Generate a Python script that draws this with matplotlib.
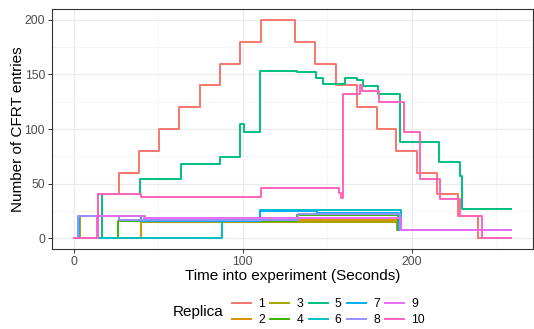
import matplotlib
matplotlib.use("Agg")
import matplotlib.pyplot as plt
from matplotlib.ticker import MultipleLocator

plt.rcParams["font.family"] = ["Liberation Sans", "DejaVu Sans"]

# step breakpoints (time in s, CFRT entries), value holds until next time
t1 = [0, 14.5, 26.5, 38.8, 50.6, 62.4, 74.5, 86.5, 98.6, 110.7, 131, 143, 155.5, 167.5, 179.5, 191, 203, 215, 227.6, 239.5, 259]
v1 = [0, 40, 60, 80, 100, 120, 140, 160, 180, 200, 180, 160, 140, 120, 100, 80, 60, 40, 20, 0, 0]
t2 = [0, 39.5, 42, 193, 259]
v2 = [0, 20, 17, 7, 7]
t3 = [0, 3.5, 40, 191.5, 259]
v3 = [0, 20, 15, 7, 7]
t4 = [0, 26, 132, 192, 259]
v4 = [0, 16, 21, 7, 7]
t5 = [0, 16.5, 39.4, 63.3, 86.5, 98.6, 101, 110, 132.4, 143.7, 147.3, 160.4, 167.8, 171, 180, 193, 216, 228.6, 230, 259]
v5 = [0, 40, 54, 68, 74, 105, 97, 153, 152, 147, 141, 147, 145, 139, 132, 88, 70, 57, 27, 27]
t6 = [0, 87.5, 110.4, 193.5, 259]
v6 = [0, 16, 25.5, 7, 7]
t7 = [0, 3, 40, 110.4, 144, 192.5, 259]
v7 = [0, 20, 16, 25, 23, 7, 7]
t8 = [0, 2.2, 27, 133, 193, 259]
v8 = [0, 20, 17, 22, 7, 7]
t9 = [0, 13.5, 41.6, 194, 259]
v9 = [0, 20, 18, 7, 7]
t10 = [0, 14, 40, 110.6, 157, 158.5, 159.6, 169.5, 170.5, 181, 195.3, 205, 216.8, 229, 241.8, 259]
v10 = [0, 40, 38, 46, 41, 37, 132, 140, 135, 125, 97, 54, 36, 20, 0, 0]

replicas = ["1", "2", "3", "4", "5", "6", "7", "8", "9", "10"]
times = [t1, t2, t3, t4, t5, t6, t7, t8, t9, t10]
values = [v1, v2, v3, v4, v5, v6, v7, v8, v9, v10]
colors = ["#F8766D", "#D89000", "#A3A500", "#39B600", "#00BF7D",
          "#00BFC4", "#00B0F6", "#9590FF", "#E76BF3", "#FF62BC"]

fig = plt.figure(figsize=(5.34, 3.29), dpi=100)
ax = fig.add_axes([52 / 534, 1 - 249 / 329, 481 / 534, 240 / 329])

for name, t, v, c in zip(replicas, times, values, colors):
    ax.plot(t, v, drawstyle="steps-post", color=c, lw=1.4, label=name)

ax.set_xlim(-12.95, 271.95)
ax.set_ylim(-10, 210)
ax.xaxis.set_major_locator(MultipleLocator(100))
ax.xaxis.set_minor_locator(MultipleLocator(50))
ax.yaxis.set_major_locator(MultipleLocator(50))
ax.yaxis.set_minor_locator(MultipleLocator(25))
ax.grid(which="major", color="#EBEBEB", lw=0.9, zorder=0)
ax.grid(which="minor", color="#F2F2F2", lw=0.5, zorder=0)
ax.set_axisbelow(True)
for s in ax.spines.values():
    s.set_color("#333333")
    s.set_linewidth(0.8)
ax.tick_params(which="major", length=3, width=0.7, color="#333333",
               labelcolor="#4D4D4D", labelsize=8.8, pad=2)
ax.tick_params(which="minor", length=0)

ax.set_xlabel("Time into experiment (Seconds)", fontsize=11, labelpad=1)
ax.set_ylabel("Number of CFRT entries", fontsize=11, labelpad=0)

fig.text(224 / 534, 1 - 312 / 329, "Replica", fontsize=11, ha="right", va="center")
fig.legend(loc="center left", bbox_to_anchor=(232 / 534, 1 - 312 / 329), ncol=5,
           frameon=False, fontsize=8.8, handlelength=1.55, handletextpad=0.6,
           columnspacing=0.43, labelspacing=0.35, borderpad=0, borderaxespad=0)

fig.savefig("out.png", dpi=100)
